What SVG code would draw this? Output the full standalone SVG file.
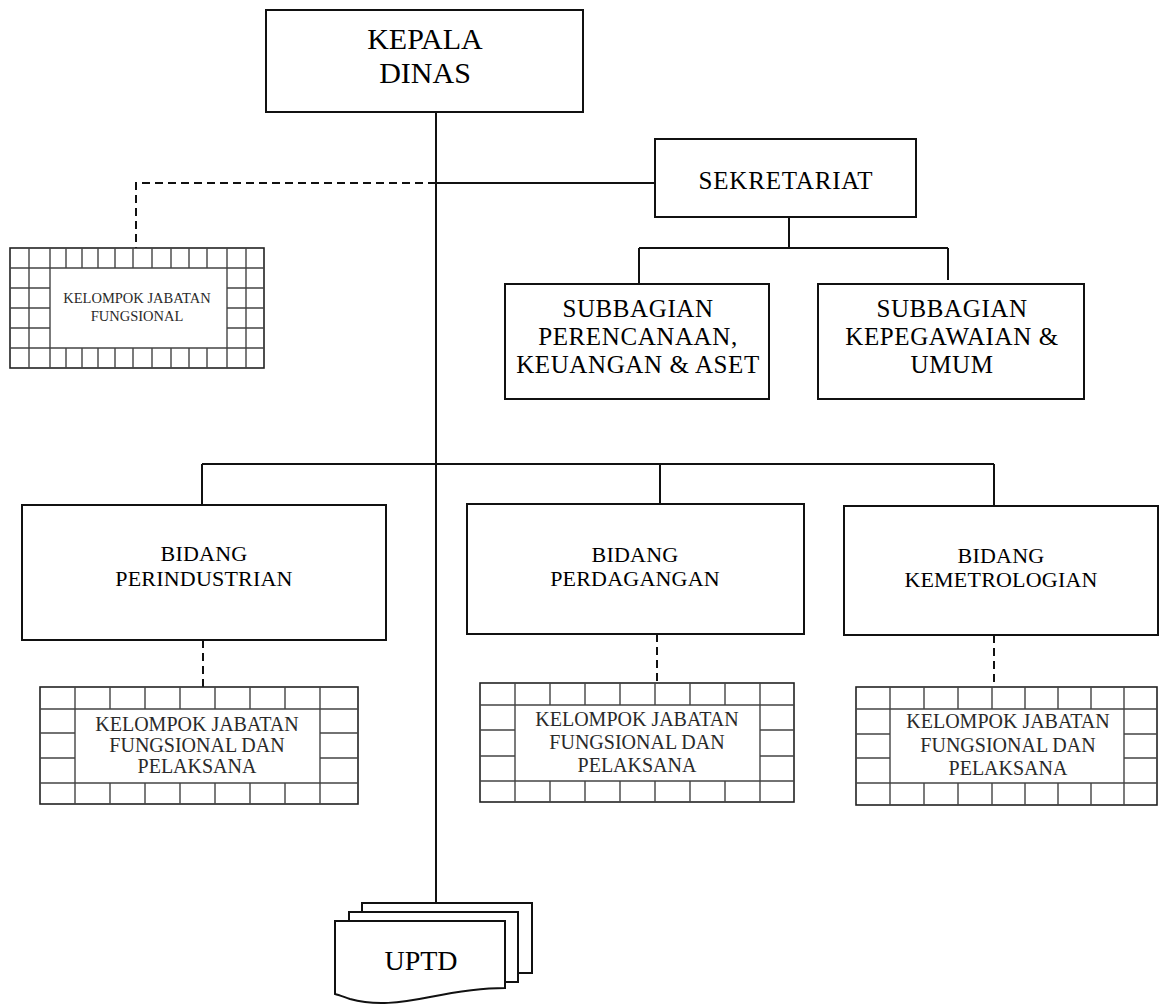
<svg xmlns="http://www.w3.org/2000/svg" width="1163" height="1005" viewBox="0 0 1163 1005">
<style>
.box{fill:#fff;stroke:#111;stroke-width:2}
.ln{fill:none;stroke:#111;stroke-width:2}
.dash{fill:none;stroke:#111;stroke-width:2;stroke-dasharray:8 5}
.grid{fill:none;stroke:#444;stroke-width:1.4}
.gbox{fill:#fff;stroke:#222;stroke-width:1.6}
text{fill:#000;text-anchor:middle}
.t30{font-size:30px}
.t25{font-size:25px;letter-spacing:0.6px}
.t22{font-size:22px;letter-spacing:0.2px}
.t20{font-size:20px;fill:#2a2a2a}
.t14{font-size:14.5px;fill:#2a2a2a}
</style>
<rect width="1163" height="1005" fill="#fff"/>
<g id="connectors">
<path class="ln" d="M436,112 V903"/>
<path class="ln" d="M436,183 H655"/>
<path class="dash" d="M436,183 H136 V248"/>
<path class="ln" d="M789,217 V248 M639,248 H948 M639,248 V284 M948,248 V280"/>
<path class="ln" d="M202,464 H994 M202,464 V505 M660,464 V504 M994,464 V506"/>
<path class="dash" d="M203,640 V687 M657,634 V683 M994,635 V687"/>
</g>
<g font-family="Liberation Serif, 'Times New Roman', serif">
<g id="kepala-dinas">
<rect class="box" x="266" y="10" width="317" height="102"/>
<text class="t30" x="425" y="49">KEPALA</text>
<text class="t30" x="425" y="83">DINAS</text>
</g>
<g id="sekretariat">
<rect class="box" x="655" y="139" width="261" height="78"/>
<text class="t25" x="786" y="189" style="letter-spacing:0.8px">SEKRETARIAT</text>
</g>
<g id="subbagian-perencanaan">
<rect class="box" x="505" y="284" width="264" height="115"/>
<text class="t25" x="638" y="317">SUBBAGIAN</text>
<text class="t25" x="638" y="345">PERENCANAAN,</text>
<text class="t25" x="638" y="373">KEUANGAN &amp; ASET</text>
</g>
<g id="subbagian-kepegawaian">
<rect class="box" x="818" y="284" width="266" height="115"/>
<text class="t25" x="952" y="317">SUBBAGIAN</text>
<text class="t25" x="952" y="345">KEPEGAWAIAN &amp;</text>
<text class="t25" x="952" y="373">UMUM</text>
</g>
<g id="kelompok-jabatan-fungsional">
<rect class="gbox" x="10" y="248" width="254" height="120"/>
<path class="grid" d="M10,268 H264 M10,348 H264 M10,288 H50 M10,308 H50 M10,328 H50 M227,288 H264 M227,308 H264 M227,328 H264 M29,248 V368 M50,248 V368 M227,248 V368 M246,248 V368 M66,248 V268 M82,248 V268 M98,248 V268 M115,248 V268 M133,248 V268 M152,248 V268 M171,248 V268 M189,248 V268 M207,248 V268 M66,348 V368 M82,348 V368 M98,348 V368 M115,348 V368 M133,348 V368 M152,348 V368 M171,348 V368 M189,348 V368 M207,348 V368"/>
<text class="t14" x="137" y="303">KELOMPOK JABATAN</text>
<text class="t14" x="137" y="321">FUNGSIONAL</text>
</g>
<g id="bidang-perindustrian">
<rect class="box" x="22" y="505" width="364" height="135"/>
<text class="t22" x="204" y="561">BIDANG</text>
<text class="t22" x="204" y="586">PERINDUSTRIAN</text>
</g>
<g id="bidang-perdagangan">
<rect class="box" x="467" y="504" width="337" height="130"/>
<text class="t22" x="635" y="562">BIDANG</text>
<text class="t22" x="635" y="586">PERDAGANGAN</text>
</g>
<g id="bidang-kemetrologian">
<rect class="box" x="844" y="506" width="314" height="129"/>
<text class="t22" x="1001" y="563">BIDANG</text>
<text class="t22" x="1001" y="587">KEMETROLOGIAN</text>
</g>
<g id="kelompok-perindustrian">
<rect class="gbox" x="40" y="687" width="318" height="117"/>
<path class="grid" d="M40,709 H358 M40,783 H358 M40,733 H75 M40,758 H75 M320,733 H358 M320,758 H358 M75,687 V804 M320,687 V804 M110,687 V709 M145,687 V709 M180,687 V709 M215,687 V709 M250,687 V709 M285,687 V709 M110,783 V804 M145,783 V804 M180,783 V804 M215,783 V804 M250,783 V804 M285,783 V804"/>
<text class="t20" x="197" y="731">KELOMPOK JABATAN</text>
<text class="t20" x="197" y="752">FUNGSIONAL DAN</text>
<text class="t20" x="197" y="773">PELAKSANA</text>
</g>
<g id="kelompok-perdagangan">
<rect class="gbox" x="480" y="683" width="314" height="119"/>
<path class="grid" d="M480,705 H794 M480,781 H794 M480,730 H515 M480,756 H515 M760,730 H794 M760,756 H794 M515,683 V802 M760,683 V802 M550,683 V705 M585,683 V705 M620,683 V705 M655,683 V705 M690,683 V705 M725,683 V705 M550,781 V802 M585,781 V802 M620,781 V802 M655,781 V802 M690,781 V802 M725,781 V802"/>
<text class="t20" x="637" y="726">KELOMPOK JABATAN</text>
<text class="t20" x="637" y="749">FUNGSIONAL DAN</text>
<text class="t20" x="637" y="772">PELAKSANA</text>
</g>
<g id="kelompok-kemetrologian">
<rect class="gbox" x="856" y="687" width="301" height="118"/>
<path class="grid" d="M856,709 H1157 M856,783 H1157 M856,734 H890 M856,758 H890 M1124,734 H1157 M1124,758 H1157 M890,687 V805 M1124,687 V805 M924,687 V709 M958,687 V709 M992,687 V709 M1025,687 V709 M1058,687 V709 M1091,687 V709 M924,783 V805 M958,783 V805 M992,783 V805 M1025,783 V805 M1058,783 V805 M1091,783 V805"/>
<text class="t20" x="1008" y="728">KELOMPOK JABATAN</text>
<text class="t20" x="1008" y="752">FUNGSIONAL DAN</text>
<text class="t20" x="1008" y="775">PELAKSANA</text>
</g>
<g id="uptd">
<rect class="box" x="362" y="903" width="170" height="70"/>
<rect class="box" x="349" y="912" width="169" height="70"/>
<path class="box" d="M335,921 H505 V988 C485,988 460,991 430,997 C400,1003 375,1006 350,999 C344,997 339,995 335,994 Z"/>
<text class="t30" x="421" y="970" style="font-size:28px">UPTD</text>
</g>
</g>
</svg>
